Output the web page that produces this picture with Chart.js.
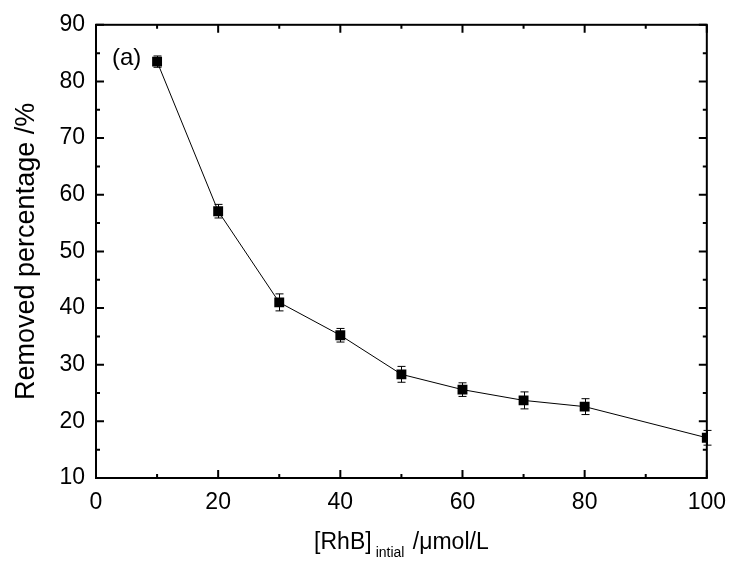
<!DOCTYPE html>
<html>
<head>
<meta charset="utf-8">
<script src="https://cdn.jsdelivr.net/npm/chart.js@4/dist/chart.umd.min.js"></script>
<style>
  html, body { margin: 0; padding: 0; background: #fff; }
  #wrap { width: 737px; height: 568px; }
</style>
</head>
<body>
<div id="wrap"><canvas id="grafico" width="737" height="568"></canvas></div>
<script>
// ----- dados -----
const concRhB = [10, 20, 30, 40, 50, 60, 70, 80, 100];
const removedPct = [83.5, 57.1, 41.0, 35.2, 28.3, 25.6, 23.7, 22.6, 17.1];
const errPct = [1.0, 1.2, 1.5, 1.2, 1.4, 1.2, 1.5, 1.4, 1.3];
const xTicks = [0, 20, 40, 60, 80, 100];
const yTicks = [10, 20, 30, 40, 50, 60, 70, 80, 90];
const xMinorTicks = [10, 30, 50, 70, 90];
const yMinorTicks = [15, 25, 35, 45, 55, 65, 75, 85];

const FONT = "'Liberation Sans', Arial, Helvetica, sans-serif";

// barras de erro
const errorBars = {
  id: 'errorBars',
  afterDatasetsDraw(chart) {
    const ctx = chart.ctx;
    const xs = chart.scales.x, ys = chart.scales.y;
    ctx.save();
    ctx.strokeStyle = '#000';
    ctx.lineWidth = 1;
    concRhB.forEach((c, i) => {
      const px = Math.round(xs.getPixelForValue(c)) + 0.5;
      const top = ys.getPixelForValue(removedPct[i] + errPct[i]);
      const bot = ys.getPixelForValue(removedPct[i] - errPct[i]);
      ctx.beginPath();
      ctx.moveTo(px, top); ctx.lineTo(px, bot);
      ctx.moveTo(px - 4, top); ctx.lineTo(px + 4, top);
      ctx.moveTo(px - 4, bot); ctx.lineTo(px + 4, bot);
      ctx.stroke();
    });
    ctx.restore();
  }
};

// moldura, ticks para dentro e títulos
const frame = {
  id: 'frame',
  afterDraw(chart) {
    const ctx = chart.ctx;
    const a = chart.chartArea;
    const xs = chart.scales.x, ys = chart.scales.y;
    ctx.save();
    ctx.strokeStyle = '#000';
    ctx.lineWidth = 2;
    ctx.strokeRect(a.left, a.top, a.right - a.left, a.bottom - a.top);

    const tick = (list, len) => {
      list.forEach(v => {
        const px = xs.getPixelForValue(v);
        ctx.beginPath();
        ctx.moveTo(px, a.bottom); ctx.lineTo(px, a.bottom - len);
        ctx.moveTo(px, a.top); ctx.lineTo(px, a.top + len);
        ctx.stroke();
      });
    };
    const tickY = (list, len) => {
      list.forEach(v => {
        const py = ys.getPixelForValue(v);
        ctx.beginPath();
        ctx.moveTo(a.left, py); ctx.lineTo(a.left + len, py);
        ctx.moveTo(a.right, py); ctx.lineTo(a.right - len, py);
        ctx.stroke();
      });
    };
    tick(xTicks, 8);
    tick(xMinorTicks, 4);
    tickY(yTicks, 8);
    tickY(yMinorTicks, 4);

    ctx.fillStyle = '#000';

    // título do eixo x com subscrito
    const main1 = '[RhB]';
    const sub = 'intial';
    const main2 = ' /\u03bcmol/L';
    ctx.font = '23px ' + FONT;
    const w1 = ctx.measureText(main1).width;
    const w3 = ctx.measureText(main2).width;
    ctx.font = '14px ' + FONT;
    const w2 = ctx.measureText(sub).width;
    const gap = 4;
    const total = w1 + gap + w2 + 2 + w3;
    let x0 = (a.left + a.right) / 2 - total / 2;
    const base = 549;
    ctx.textBaseline = 'alphabetic';
    ctx.textAlign = 'left';
    ctx.font = '23px ' + FONT;
    ctx.fillText(main1, x0, base);
    ctx.font = '14px ' + FONT;
    ctx.fillText(sub, x0 + w1 + gap, base + 8);
    ctx.font = '23px ' + FONT;
    ctx.fillText(main2, x0 + w1 + gap + w2 + 2, base);

    // título do eixo y
    ctx.save();
    ctx.translate(27, (a.top + a.bottom) / 2);
    ctx.rotate(-Math.PI / 2);
    ctx.textAlign = 'center';
    ctx.textBaseline = 'middle';
    ctx.font = '27px ' + FONT;
    ctx.fillText('Removed percentage /%', 0, 0);
    ctx.restore();

    // rótulo do painel
    ctx.font = '24px ' + FONT;
    ctx.textAlign = 'left';
    ctx.textBaseline = 'middle';
    ctx.fillText('(a)', a.left + 16, a.top + 34);
    ctx.restore();
  }
};

const ctxGrafico = document.getElementById('grafico').getContext('2d');

new Chart(ctxGrafico, {
  type: 'scatter',
  data: {
    datasets: [{
      data: concRhB.map((c, i) => ({ x: c, y: removedPct[i] })),
      showLine: true,
      borderColor: '#000',
      borderWidth: 1,
      backgroundColor: '#000',
      pointStyle: 'rect',
      pointRadius: 7,
      pointBorderWidth: 0,
      tension: 0
    }]
  },
  options: {
    responsive: false,
    animation: false,
    layout: { padding: { top: 21, right: 25, left: 0, bottom: 0 } },
    plugins: {
      legend: { display: false },
      tooltip: { enabled: false }
    },
    scales: {
      x: {
        type: 'linear',
        min: 0,
        max: 100,
        afterBuildTicks: s => { s.ticks = xTicks.map(v => ({ value: v })); },
        afterFit: s => { s.height = 90; },
        ticks: { color: '#000', font: { family: FONT, size: 23 }, padding: 11, maxRotation: 0 },
        grid: { display: false, drawTicks: false },
        border: { display: false }
      },
      y: {
        min: 10,
        max: 90,
        afterBuildTicks: s => { s.ticks = yTicks.map(v => ({ value: v })); },
        afterFit: s => { s.width = 96; },
        ticks: { color: '#000', font: { family: FONT, size: 23 }, padding: 11 },
        grid: { display: false, drawTicks: false },
        border: { display: false }
      }
    }
  },
  plugins: [errorBars, frame]
});
</script>
</body>
</html>
